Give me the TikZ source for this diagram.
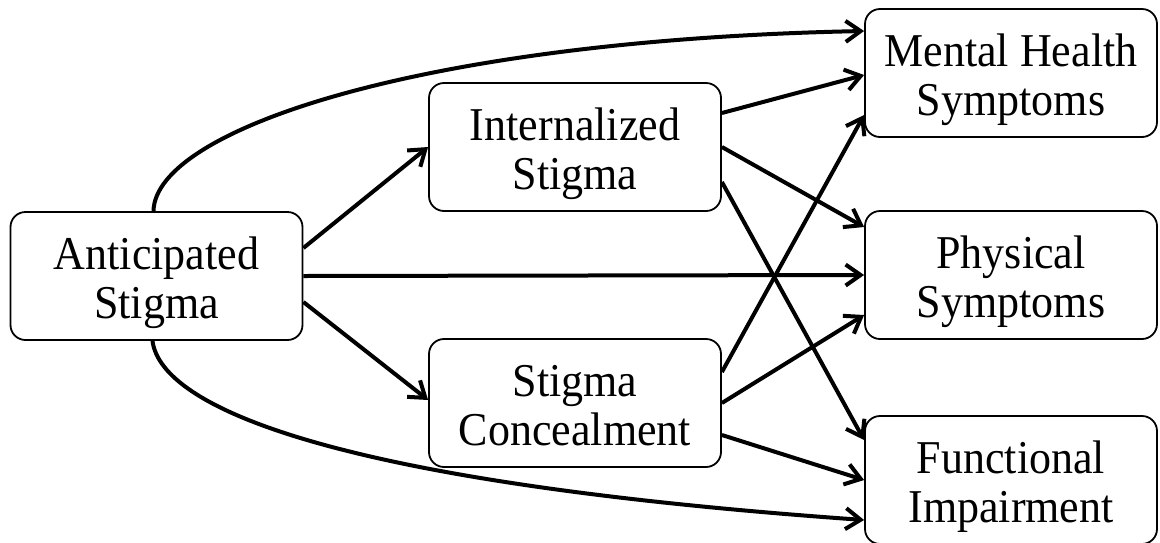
\documentclass[tikz,border=0pt]{standalone}
\usepackage{fontspec}
\usepackage{graphicx}
\setmainfont{Liberation Serif}
\usetikzlibrary{arrows.meta}
\newcommand\vstr[1]{\scalebox{1}[1.07]{#1}}
\newcommand\twolines[2]{\raisebox{7pt}[0pt][0pt]{\begin{tabular}[t]{@{}c@{}}\vstr{#1}\\\vstr{#2}\end{tabular}}}
\begin{document}
\begin{tikzpicture}[x=1pt,y=-1pt,
  box/.style={draw, line width=1.8pt, rounded corners=15pt, minimum width=292pt, minimum height=128pt, inner sep=0pt, align=center, font=\fontsize{44}{49}\selectfont},
  conn/.style={line width=4pt, -{Straight Barb[length=15pt,width=21pt,line width=4pt]}}]
\useasboundingbox (0,0) rectangle (1160,542);
\node[box] (as) at (156.5,276) {\twolines{Anticipated}{Stigma}};
\node[box] (is) at (575,147) {\twolines{Internalized}{Stigma}};
\node[box] (sc) at (575,403) {\twolines{Stigma}{Concealment}};
\node[box] (mh) at (1011,73) {\twolines{Mental Health}{Symptoms}};
\node[box] (ps) at (1011,275) {\twolines{Physical}{Symptoms}};
\node[box] (fi) at (1011,480) {\twolines{Functional}{Impairment}};
% from anticipated
\draw[conn] ([xshift=-3pt]as.north) .. controls (155,130) and (420,40) .. ([yshift=42pt]mh.west);
\draw[conn] ([xshift=-4pt]as.south) .. controls (160,400) and (300,480) .. ([yshift=-40pt]fi.west);
\draw[conn] ([yshift=28pt]as.east) -- (is.west);
\draw[conn] (as.east) -- (ps.west);
\draw[conn] ([yshift=-26pt]as.east) -- ([yshift=3pt]sc.west);
% from internalized
\draw[conn] ([yshift=34pt]is.east) -- ([yshift=-2pt]mh.west);
\draw[conn] (is.east) -- ([yshift=48pt]ps.west);
\draw[conn] ([yshift=-35pt]is.east) -- ([yshift=40pt]fi.west);
% from concealment
\draw[conn] ([yshift=31pt]sc.east) -- ([yshift=-42pt]mh.west);
\draw[conn] (sc.east) -- ([yshift=-40pt]ps.west);
\draw[conn] ([yshift=-32pt]sc.east) -- (fi.west);
\end{tikzpicture}
\end{document}
